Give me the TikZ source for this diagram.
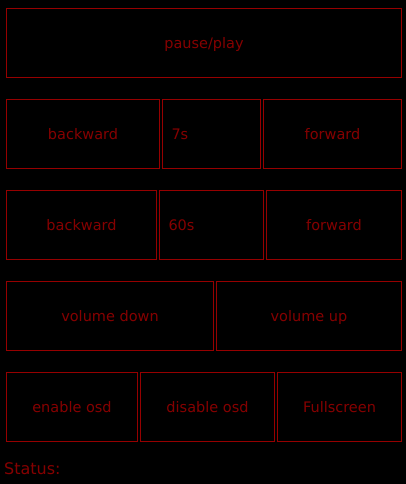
\documentclass[tikz,border=0pt]{standalone}
\usepackage{fontspec}
\setmainfont{DejaVu Sans}
\definecolor{btnborder}{RGB}{150,0,0}
\definecolor{btntext}{RGB}{133,0,0}
\tikzset{
  btn/.style={draw=btnborder, line width=1pt, inner sep=0pt, minimum height=69pt,
    text=btntext, font=\fontsize{14.5}{17}\selectfont, text height=12pt, text depth=1.5pt},
  btnleft/.style={btn, inner xsep=9pt, align=left},
  status/.style={text=btntext, font=\fontsize{16}{19}\selectfont, inner sep=0pt, anchor=base west}
}
\begin{document}
\begin{tikzpicture}[x=1pt,y=-1pt]
\useasboundingbox (0,0) rectangle (406,484);
\fill[black] (0,0) rectangle (406,484);
% row 1
\node[btn, minimum width=395pt] (pause) at (204,43) {pause/play};
% row 2
\node[btn, minimum width=153pt] (back7) at (83,134) {backward};
\node[btnleft, text width=80pt] (s7) at (211.5,134) {7s};
\node[btn, minimum width=138pt] (fwd7) at (332.5,134) {forward};
% row 3
\node[btn, minimum width=150pt] (back60) at (81.5,225) {backward};
\node[btnleft, text width=86pt] (s60) at (211.5,225) {60s};
\node[btn, minimum width=135pt] (fwd60) at (334,225) {forward};
% row 4
\node[btn, minimum width=207pt] (voldown) at (110,316) {volume down};
\node[btn, minimum width=185pt] (volup) at (309,316) {volume up};
% row 5
\node[btn, minimum width=131pt] (osdon) at (72,407) {enable osd};
\node[btn, minimum width=134pt] (osdoff) at (207.5,407) {disable osd};
\node[btn, minimum width=124pt] (full) at (339.5,407) {Fullscreen};
% status
\node[status] (statuslbl) at (4,474) {Status:};
\end{tikzpicture}
\end{document}
